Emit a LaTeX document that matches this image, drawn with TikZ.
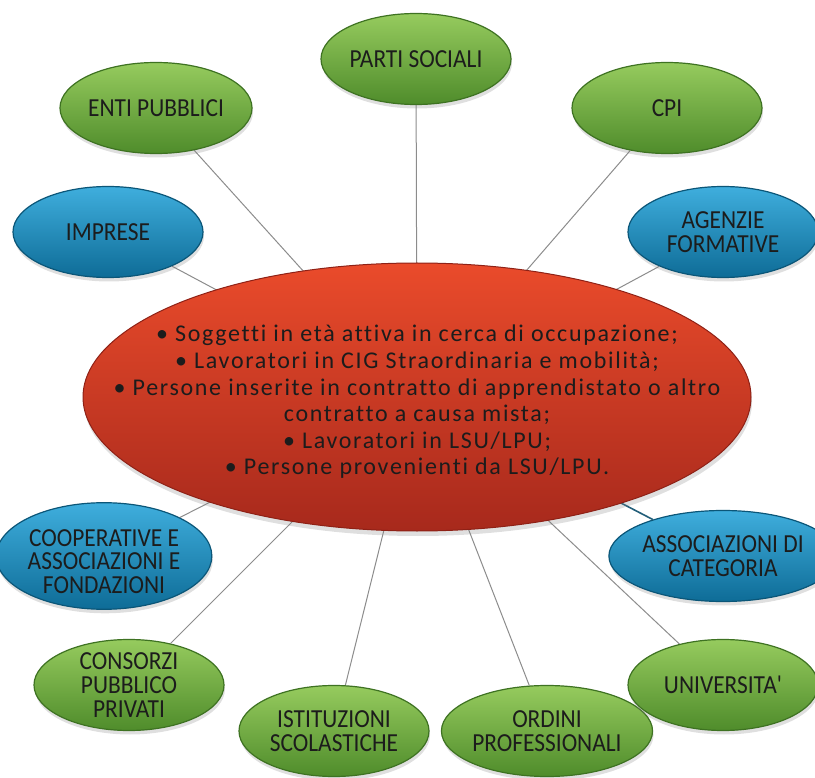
\documentclass[tikz,border=0pt]{standalone}
\usepackage{fontspec}
\setmainfont{Carlito}
\newfontfamily\leaffont[FakeStretch=0.9]{Carlito}
\newfontfamily\hubfont[LetterSpace=7, Ligatures=NoCommon]{Carlito}
\usepackage{tikz}
\usetikzlibrary{shapes.geometric, shadows, positioning, backgrounds}

\definecolor{greentop}{HTML}{96CB5E}
\definecolor{greenbot}{HTML}{4F8C2B}
\definecolor{greenrim}{HTML}{3E7222}
\definecolor{bluetop}{HTML}{3FAEDD}
\definecolor{bluebot}{HTML}{0E6C97}
\definecolor{bluerim}{HTML}{0B5678}
\definecolor{redtop}{HTML}{EA4B2B}
\definecolor{redbot}{HTML}{A7291C}
\definecolor{redrim}{HTML}{8E2116}
\definecolor{linkgray}{HTML}{8C8C8C}
\definecolor{inkdark}{HTML}{1C1C1C}

\begin{document}
\begin{tikzpicture}[
    x=1pt, y=-1pt,
    leaf/.style={ellipse, inner sep=0pt, minimum width=190pt, minimum height=91pt, align=center, text=inkdark,
        font=\leaffont\fontsize{26}{23.6}\selectfont, line width=1.2pt,
        drop shadow={opacity=0.25, shadow xshift=1pt, shadow yshift=-4pt}},
    green/.style={leaf, draw=greenrim, top color=greentop, bottom color=greenbot},
    blue/.style={leaf, draw=bluerim, top color=bluetop, bottom color=bluebot},
    hub/.style={ellipse, inner sep=0pt, minimum width=668pt, minimum height=268pt,
        draw=redrim, line width=1pt, top color=redtop, bottom color=redbot,
        drop shadow={opacity=0.25, shadow xshift=1pt, shadow yshift=-5pt}},
    hubtext/.style={align=center, text=inkdark, inner sep=0pt, yshift=-5pt,
        font=\hubfont\fontsize{24}{26.6}\selectfont},
    link/.style={draw=linkgray, line width=1pt}
]
\useasboundingbox (0,0) rectangle (815,778);

\node (target) [hub, label={[hubtext]center:{%
  \textbullet\ Soggetti in età attiva in cerca di occupazione;\\
  \textbullet\ Lavoratori in CIG Straordinaria e mobilità;\\
  \textbullet\ Persone inserite in contratto di apprendistato o altro\\
  contratto a causa mista;\\
  \textbullet\ Lavoratori in LSU/LPU;\\
  \textbullet\ Persone provenienti da LSU/LPU.}}] at (417,397) {};

\node (parti) [green] at (416,59) {PARTI SOCIALI};
\node (enti) [green] at (156,108) {ENTI PUBBLICI};
\node (cpi) [green] at (667,108) {CPI};
\node (imprese) [blue] at (108,232) {IMPRESE};
\node (agenzie) [blue] at (723,232) {AGENZIE\\FORMATIVE};
\node (coop) [blue] at (104,556) {\rule{0pt}{28pt}COOPERATIVE E\\ASSOCIAZIONI E\\FONDAZIONI};
\node (assoc) [blue] at (723,556) {ASSOCIAZIONI DI\\CATEGORIA};
\node (consorzi) [green] at (129,685) {CONSORZI\\PUBBLICO\\PRIVATI};
\node (istituzioni) [green] at (334,731) {ISTITUZIONI\\SCOLASTICHE};
\node (ordini) [green] at (547,731) {ORDINI\\PROFESSIONALI};
\node (univ) [green] at (723,685) {UNIVERSITA'};

\begin{scope}[on background layer]
\foreach \leafname in {parti, enti, cpi, imprese, agenzie, coop, consorzi, istituzioni, ordini, univ}
    \draw [link] (target.center) -- (\leafname);
\draw [link, draw=bluerim!80!gray, line width=1.6pt] (target.center) -- (assoc);
\end{scope}

\end{tikzpicture}
\end{document}
